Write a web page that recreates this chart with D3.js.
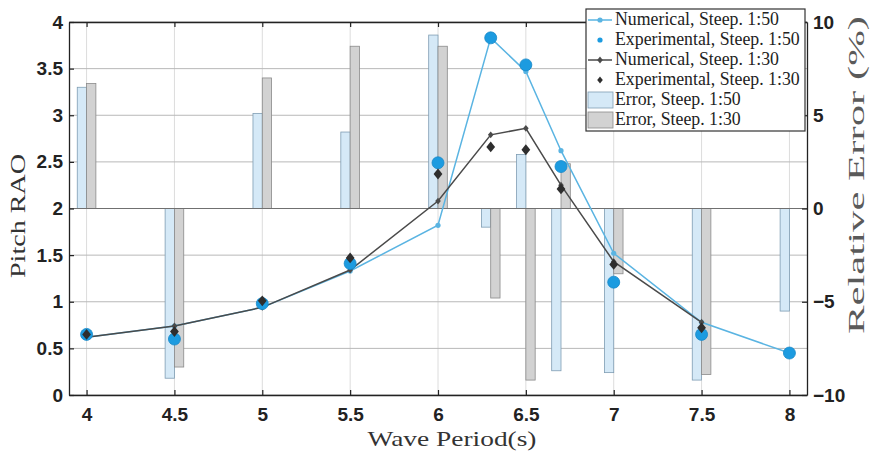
<!DOCTYPE html>
<html><head><meta charset="utf-8">
<script src="https://cdn.jsdelivr.net/npm/d3@7"></script>
<style>body{margin:0;background:#fff}svg{display:block}</style>
</head><body><svg id="c" width="874" height="451"></svg>
<script>
// ---- data ----
const periods   = [4, 4.5, 5, 5.5, 6, 6.3, 6.5, 6.7, 7, 7.5, 8];
const num50     = [0.62, 0.74, 0.94, 1.33, 1.82, 3.83, 3.47, 2.62, 1.52, 0.78, 0.45];
const exp50     = [0.65, 0.60, 0.98, 1.41, 2.49, 3.83, 3.54, 2.45, 1.21, 0.65, 0.45];
const periods30 = [4, 4.5, 5, 5.5, 6, 6.3, 6.5, 6.7, 7, 7.5];
const num30     = [0.62, 0.74, 0.94, 1.34, 2.08, 2.79, 2.86, 2.25, 1.43, 0.78];
const exp30     = [0.65, 0.68, 1.01, 1.47, 2.37, 2.66, 2.63, 2.21, 1.40, 0.72];
const err50     = [6.5, -9.1, 5.1, 4.1, 9.3, -1.0, 2.9, -8.7, -8.8, -9.2, -5.5];
const err30     = [6.7, -8.5, 7.0, 8.7, 8.7, -4.8, -9.2, 2.4, -3.5, -8.9];
const xTicks    = [4, 4.5, 5, 5.5, 6, 6.5, 7, 7.5, 8];
const yLTicks   = [0, 0.5, 1, 1.5, 2, 2.5, 3, 3.5, 4];
const yRTicks   = [-10, -5, 0, 5, 10];
const legendLabels = ["Numerical, Steep. 1:50", "Experimental, Steep. 1:50",
  "Numerical, Steep. 1:30", "Experimental, Steep. 1:30", "Error, Steep. 1:50", "Error, Steep. 1:30"];

// ---- styles ----
const C_LINE50 = "#5ab4e2", C_EXP50 = "#1c9be0", C_LINE30 = "#4a4a4a", C_EXP30 = "#2e2e2e";
const C_BAR50 = "#d5e9f7", C_BAR50E = "#7f9db3", C_BAR30 = "#d2d2d2", C_BAR30E = "#8a8a8a";
const SERIF = "'Liberation Serif', 'Times New Roman', serif";
const SANS = "'Liberation Sans', Arial, sans-serif";

const L = 69, R = 807, T = 22, B = 395;
const svg = d3.select("#c");
const x = d3.scaleLinear().domain([3.9, 8.1]).range([L, R]);
const yL = d3.scaleLinear().domain([0, 4]).range([B, T]);
const yR = d3.scaleLinear().domain([-10, 10]).range([B, T]);
const barW = 0.053;

// diamond symbol (MATLAB-like, slightly taller than wide)
function diamond(hw, hh) {
  return { draw(ctx) { ctx.moveTo(0, -hh); ctx.lineTo(hw, 0); ctx.lineTo(0, hh); ctx.lineTo(-hw, 0); ctx.closePath(); } };
}
const smallDia = d3.symbol().type(diamond(2.8, 3.4))();
const bigDia = d3.symbol().type(diamond(4.4, 5.4))();
const legDia = d3.symbol().type(diamond(2.8, 3.4))();

// grid
const g = svg.append("g");
g.selectAll(".vg").data(xTicks).join("line")
  .attr("x1", d => x(d)).attr("x2", d => x(d)).attr("y1", T).attr("y2", B)
  .attr("stroke", "#dcdcdc").attr("stroke-width", 1);
g.selectAll(".hg").data(yLTicks).join("line")
  .attr("x1", L).attr("x2", R).attr("y1", d => yL(d)).attr("y2", d => yL(d))
  .attr("stroke", "#b8b8b8").attr("stroke-width", 1);

// bars (right axis)
const bars = svg.append("g");
bars.selectAll(".b50").data(periods).join("rect")
  .attr("x", d => x(d - barW)).attr("width", d => x(d) - x(d - barW))
  .attr("y", (d, i) => yR(Math.max(0, err50[i]))).attr("height", (d, i) => Math.abs(yR(err50[i]) - yR(0)))
  .attr("fill", C_BAR50).attr("stroke", C_BAR50E).attr("stroke-width", 0.8);
bars.selectAll(".b30").data(periods30).join("rect")
  .attr("x", d => x(d)).attr("width", d => x(d + barW) - x(d))
  .attr("y", (d, i) => yR(Math.max(0, err30[i]))).attr("height", (d, i) => Math.abs(yR(err30[i]) - yR(0)))
  .attr("fill", C_BAR30).attr("stroke", C_BAR30E).attr("stroke-width", 0.8);
// bar baseline
svg.append("line").attr("x1", L).attr("x2", R).attr("y1", yR(0)).attr("y2", yR(0))
  .attr("stroke", "#707070").attr("stroke-width", 1);

// lines
const line = d3.line().x(d => x(d[0])).y(d => yL(d[1]));
svg.append("path").datum(periods.map((p, i) => [p, num50[i]])).attr("d", line)
  .attr("fill", "none").attr("stroke", C_LINE50).attr("stroke-width", 1.5);
svg.selectAll(".m50").data(periods).join("circle")
  .attr("cx", d => x(d)).attr("cy", (d, i) => yL(num50[i])).attr("r", 2.6).attr("fill", C_LINE50);
svg.append("path").datum(periods30.map((p, i) => [p, num30[i]])).attr("d", line)
  .attr("fill", "none").attr("stroke", C_LINE30).attr("stroke-width", 1.5);
svg.selectAll(".m30").data(periods30).join("path")
  .attr("transform", (d, i) => `translate(${x(d)},${yL(num30[i])})`).attr("d", smallDia).attr("fill", C_LINE30);
svg.selectAll(".e50").data(periods).join("circle")
  .attr("cx", d => x(d)).attr("cy", (d, i) => yL(exp50[i])).attr("r", 6)
  .attr("fill", C_EXP50).attr("stroke", "#1788c8").attr("stroke-width", 0.8);
svg.selectAll(".e30").data(periods30).join("path")
  .attr("transform", (d, i) => `translate(${x(d)},${yL(exp30[i])})`).attr("d", bigDia).attr("fill", C_EXP30);

// axes
function styleAxis(sel) {
  sel.select(".domain").attr("stroke", "#222").attr("stroke-width", 1.3);
  sel.selectAll(".tick line").attr("stroke", "#222").attr("stroke-width", 1.2);
  sel.selectAll("text").attr("font-family", SANS).attr("font-size", 19).attr("font-weight", "bold").attr("fill", "#222");
}
svg.append("g").attr("transform", `translate(0,${B})`)
  .call(d3.axisBottom(x).tickValues(xTicks).tickFormat(d3.format("")).tickSizeInner(-5).tickSizeOuter(0).tickPadding(13))
  .call(styleAxis);
svg.append("g").attr("transform", `translate(0,${T})`)
  .call(d3.axisTop(x).tickValues(xTicks).tickFormat("").tickSizeInner(-5).tickSizeOuter(0))
  .call(styleAxis);
svg.append("g").attr("transform", `translate(${L},0)`)
  .call(d3.axisLeft(yL).tickValues(yLTicks).tickFormat(d3.format("")).tickSizeInner(-5).tickSizeOuter(0).tickPadding(6))
  .call(styleAxis);
svg.append("g").attr("transform", `translate(${R},0)`)
  .call(d3.axisRight(yR).tickValues(yRTicks).tickFormat(d3.format("")).tickSizeInner(-5).tickSizeOuter(0).tickPadding(6))
  .call(styleAxis);

// axis titles
svg.append("text").attr("x", 452).attr("y", 446).attr("text-anchor", "middle")
  .attr("font-family", SERIF).attr("font-size", 22).attr("fill", "#333")
  .attr("textLength", 169).attr("lengthAdjust", "spacingAndGlyphs").text("Wave Period(s)");
svg.append("text").attr("transform", "translate(25,216) rotate(-90)").attr("text-anchor", "middle")
  .attr("font-family", SERIF).attr("font-size", 22).attr("fill", "#333")
  .attr("textLength", 124).attr("lengthAdjust", "spacingAndGlyphs").text("Pitch RAO");
svg.append("text").attr("transform", "translate(864,175) rotate(-90)").attr("text-anchor", "middle")
  .attr("font-family", SERIF).attr("font-size", 22.5).attr("fill", "#5a5a5a")
  .attr("textLength", 318).attr("lengthAdjust", "spacingAndGlyphs").text("Relative Error (%)");

// legend
const lg = svg.append("g");
lg.append("rect").attr("x", 586).attr("y", 9).attr("width", 219).attr("height", 122)
  .attr("fill", "#fff").attr("stroke", "#333").attr("stroke-width", 1.2);
const rowY = i => 20 + i * 20;
lg.selectAll("text").data(legendLabels).join("text")
  .attr("x", 615).attr("y", (d, i) => rowY(i) + 5).attr("font-family", SERIF).attr("font-size", 17.8).attr("fill", "#222")
  .text(d => d);
lg.append("line").attr("x1", 588).attr("x2", 612).attr("y1", rowY(0)).attr("y2", rowY(0)).attr("stroke", C_LINE50).attr("stroke-width", 1.5);
lg.append("circle").attr("cx", 600).attr("cy", rowY(0)).attr("r", 2.6).attr("fill", C_LINE50);
lg.append("circle").attr("cx", 600).attr("cy", rowY(1)).attr("r", 2.6).attr("fill", C_EXP50);
lg.append("line").attr("x1", 588).attr("x2", 612).attr("y1", rowY(2)).attr("y2", rowY(2)).attr("stroke", C_LINE30).attr("stroke-width", 1.5);
lg.append("path").attr("transform", `translate(600,${rowY(2)})`).attr("d", smallDia).attr("fill", C_LINE30);
lg.append("path").attr("transform", `translate(600,${rowY(3)})`).attr("d", legDia).attr("fill", C_EXP30);
lg.append("rect").attr("x", 588).attr("y", rowY(4) - 8).attr("width", 25).attr("height", 16)
  .attr("fill", C_BAR50).attr("stroke", C_BAR50E).attr("stroke-width", 0.8);
lg.append("rect").attr("x", 588).attr("y", rowY(5) - 8).attr("width", 25).attr("height", 16)
  .attr("fill", C_BAR30).attr("stroke", C_BAR30E).attr("stroke-width", 0.8);
</script></body></html>
